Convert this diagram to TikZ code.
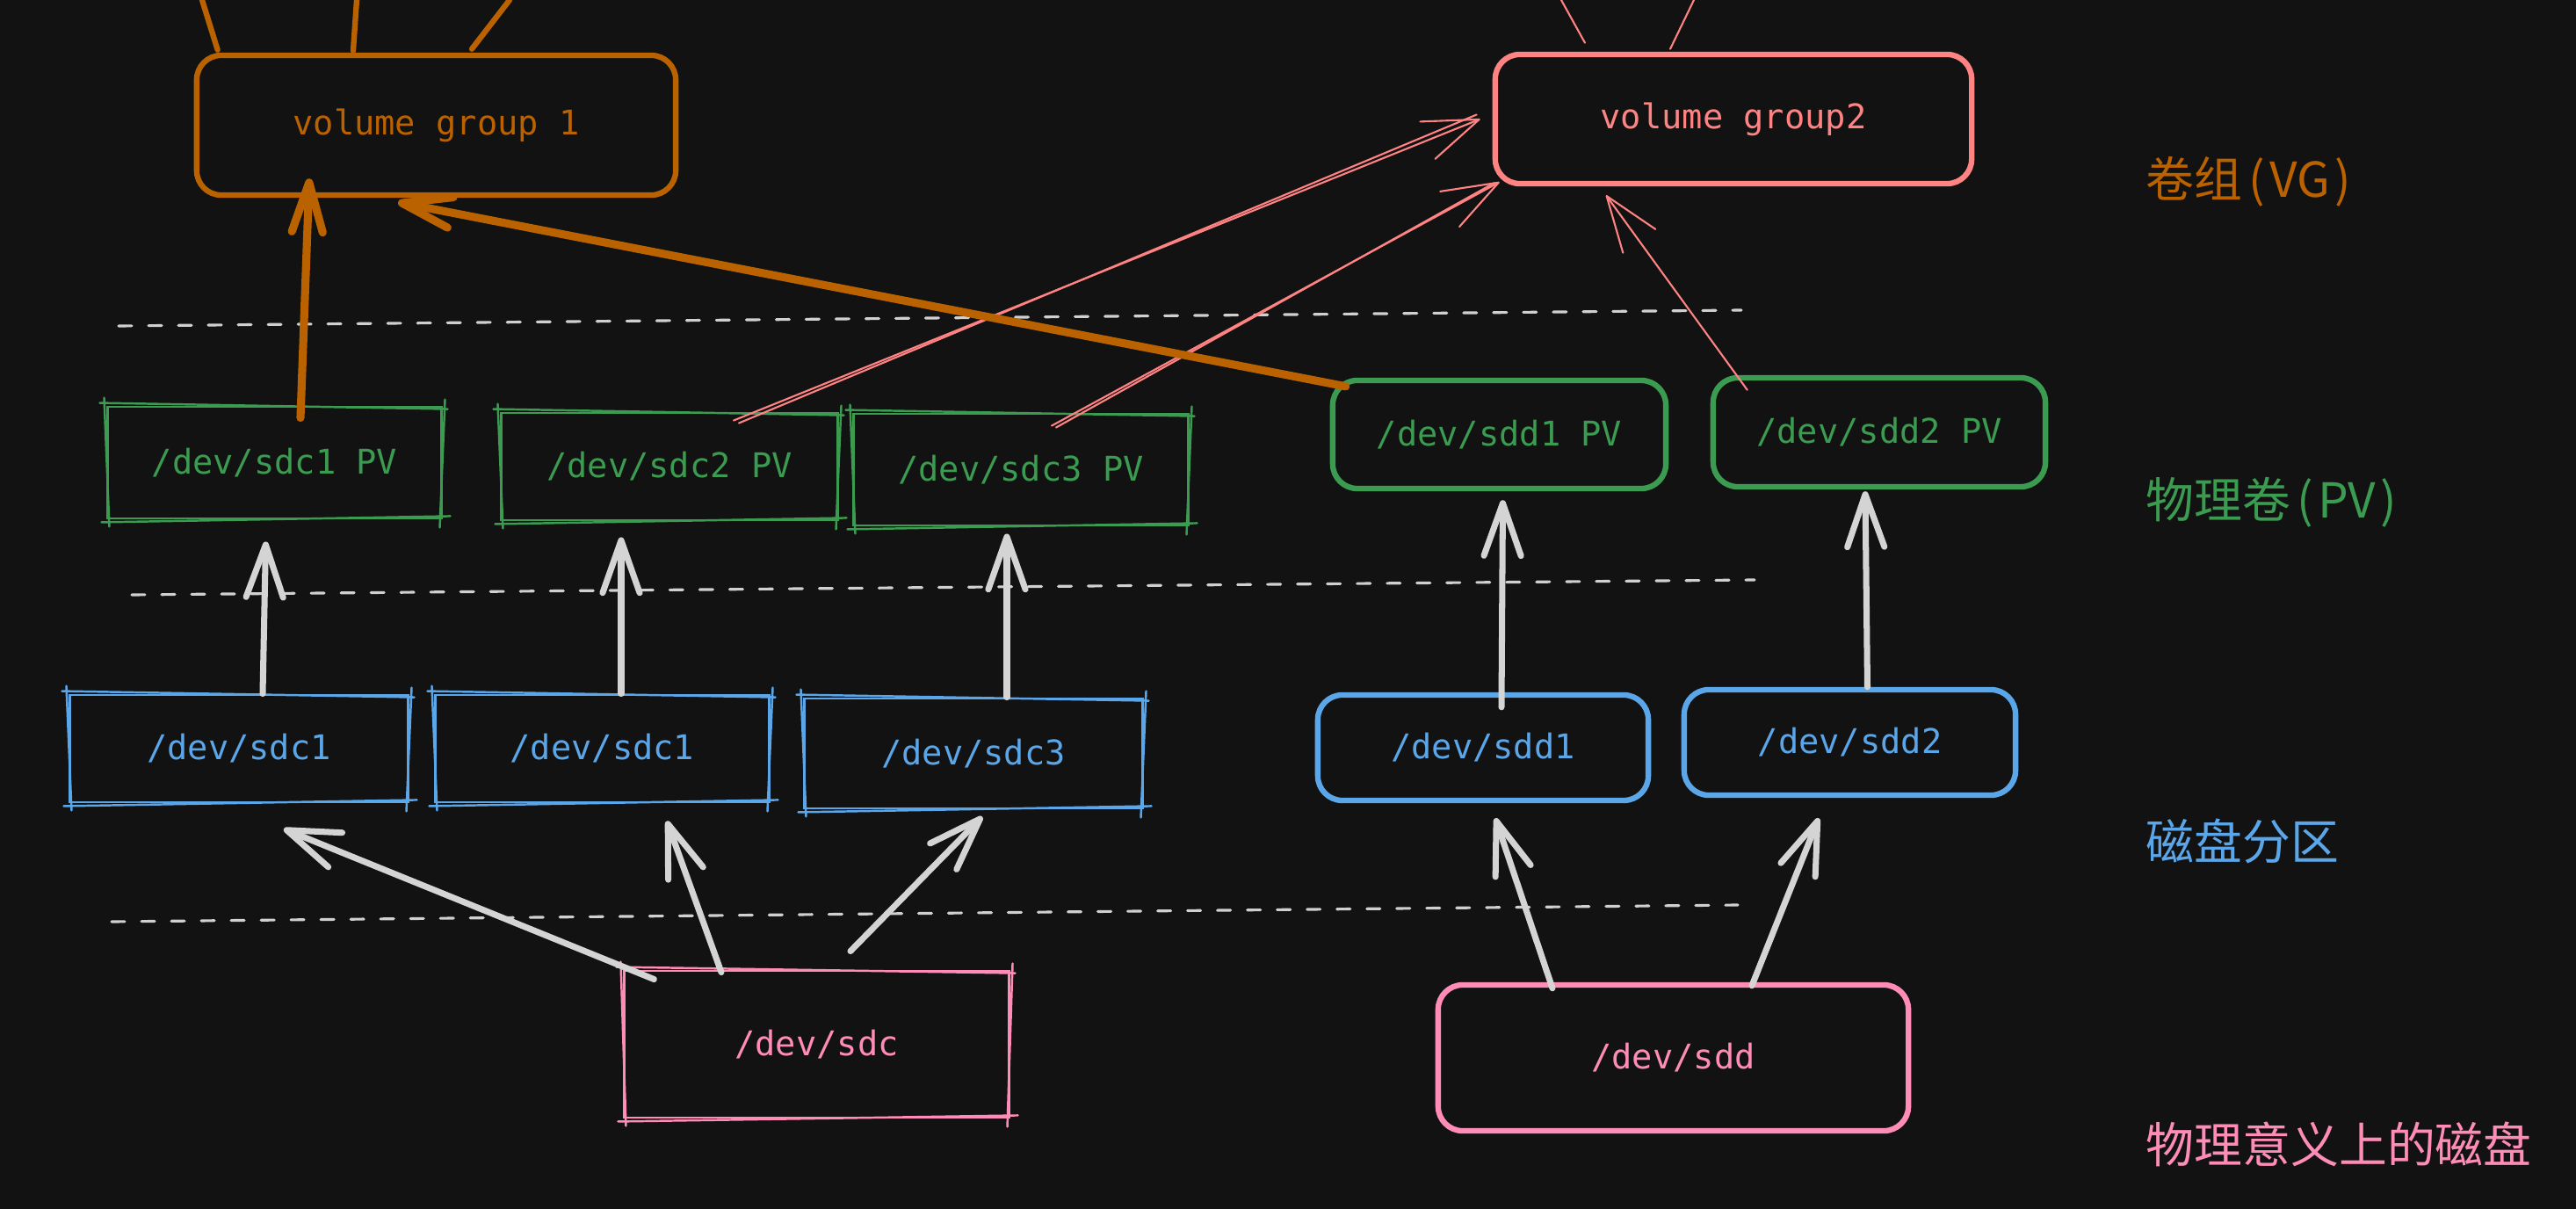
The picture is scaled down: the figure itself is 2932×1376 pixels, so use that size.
\documentclass[tikz,border=0pt]{standalone}
\usepackage{fontspec}
\usetikzlibrary{arrows.meta,calc}
\newfontfamily\codefont{DejaVu Sans Mono}
\newfontfamily\cjk{Noto Sans CJK SC}
\newcommand\codef{\codefont\fontsize{11}{13}\selectfont}
\newcommand\cjkf{\cjk\fontsize{15.6}{18}\selectfont}
\definecolor{bgc}{HTML}{121212}
\definecolor{corange}{HTML}{BA6200}
\definecolor{cgreen}{HTML}{3B9B50}
\definecolor{cblue}{HTML}{5AA6E8}
\definecolor{csalmon}{HTML}{FF8383}
\definecolor{cpink}{HTML}{FF8CB6}
\definecolor{cgrey}{HTML}{D4D4D4}
\definecolor{cdash}{HTML}{D0D0D0}
% extra hand-drawn strokes round a node
\newcommand\roughen[2]{%
  \draw[#2, line width=0.7pt, line cap=round]
    ($(#1.north west)+(-8,-3)$) -- ($(#1.north east)+(6,4)$)
    ($(#1.north east)+(3,-7)$) -- ($(#1.south east)+(-3,9)$)
    ($(#1.south east)+(9,-4)$) -- ($(#1.south west)+(-6,3)$)
    ($(#1.south west)+(3,8)$) -- ($(#1.north west)+(-3,-9)$);
}
\begin{document}
\begin{tikzpicture}[x=0.01cm,y=-0.01cm,
  roundbox/.style={draw=#1, text=#1, rounded corners=0.28cm, line width=1.8pt, font=\codef, inner sep=0pt},
  roughbox/.style={draw=#1, text=#1, line width=0.8pt, font=\codef, inner sep=0pt},
  layerlabel/.style={text=#1, font=\cjkf, anchor=west, inner sep=0pt},
  dashline/.style={draw=cdash, line width=0.9pt, line cap=round, dash pattern=on 0.15cm off 0.19cm},
  greyarrow/.style={draw=cgrey, line width=2pt, line cap=round, -{Straight Barb[length=17pt,width=12pt,round]}},
  orangearrow/.style={draw=corange, line width=2.6pt, line cap=round, -{Straight Barb[length=16pt,width=10pt,round]}},
  pinkarrow/.style={draw=csalmon, line width=0.6pt, line cap=round, -{Straight Barb[length=18pt,width=13pt,round]}},
  orangeline/.style={draw=corange, line width=1.8pt, line cap=round},
  pinkline/.style={draw=csalmon, line width=0.6pt, line cap=round}]
\fill[bgc] (0,0) rectangle (2932,1376);
\useasboundingbox (0,0) rectangle (2932,1376);

% dashed separators
\coordinate (da1) at (135,371); \coordinate (db1) at (1982,353);
\coordinate (da2) at (150,677); \coordinate (db2) at (1997,660);
\coordinate (da3) at (127,1049); \coordinate (db3) at (1978,1030);
\draw[dashline] (da1) -- (db1);
\draw[dashline] (da2) -- (db2);
\draw[dashline] (da3) -- (db3);

% volume groups
\node[roundbox=corange, minimum width=5.45cm, minimum height=1.59cm] (vg1) at (496.5,142.5) {volume group 1};
\node[roundbox=csalmon, minimum width=5.42cm, minimum height=1.47cm] (vg2) at (1973,135.5) {volume group2};

% physical volumes
\node[roughbox=cgreen, minimum width=3.79cm, minimum height=1.27cm] (pv1) at (312.5,526.5) {/dev/sdc1 PV};
\node[roughbox=cgreen, minimum width=3.82cm, minimum height=1.22cm] (pv2) at (762,531) {/dev/sdc2 PV};
\node[roughbox=cgreen, minimum width=3.80cm, minimum height=1.27cm] (pv3) at (1162,534.5) {/dev/sdc3 PV};
\node[roundbox=cgreen, minimum width=3.79cm, minimum height=1.23cm] (pv4) at (1706.5,494.5) {/dev/sdd1 PV};
\node[roundbox=cgreen, minimum width=3.78cm, minimum height=1.24cm] (pv5) at (2139,492) {/dev/sdd2 PV};
\roughen{pv1}{cgreen}
\roughen{pv2}{cgreen}
\roughen{pv3}{cgreen}

% partitions
\node[roughbox=cblue, minimum width=3.84cm, minimum height=1.22cm] (pa1) at (272,852) {/dev/sdc1};
\node[roughbox=cblue, minimum width=3.79cm, minimum height=1.22cm] (pa2) at (685.5,852) {/dev/sdc1};
\node[roughbox=cblue, minimum width=3.84cm, minimum height=1.25cm] (pa3) at (1108,857.5) {/dev/sdc3};
\node[roundbox=cblue, minimum width=3.76cm, minimum height=1.20cm] (pa4) at (1688,851) {/dev/sdd1};
\node[roundbox=cblue, minimum width=3.77cm, minimum height=1.20cm] (pa5) at (2105.5,845) {/dev/sdd2};
\roughen{pa1}{cblue}
\roughen{pa2}{cblue}
\roughen{pa3}{cblue}

% disks
\node[roughbox=cpink, minimum width=4.37cm, minimum height=1.67cm] (sdc) at (929.5,1188.5) {/dev/sdc};
\node[roundbox=cpink, minimum width=5.35cm, minimum height=1.66cm] (sdd) at (1904.5,1204) {/dev/sdd};
\roughen{sdc}{cpink}

% layer labels
\node[layerlabel=corange] (lvg) at (2442,207) {卷组\kern2pt(\kern1.5pt VG\kern1.5pt)};
\node[layerlabel=cgreen] (lpv) at (2442,572) {物理卷\kern2pt(\kern1.5pt PV\kern1.5pt)};
\node[layerlabel=cblue] (lpa) at (2442,957) {磁盘分区};
\node[layerlabel=cpink] (ldisk) at (2442,1302) {物理意义上的磁盘};

% lines leaving the top edge
\coordinate (t1) at (230,0); \coordinate (t2) at (406,0); \coordinate (t3) at (580,0);
\coordinate (t4) at (1777,0); \coordinate (t5) at (1928,0);
\draw[orangeline] ($(vg1.north west)+(27,-3)$) -- (t1);
\draw[orangeline] ($(vg1.north)+(-94.5,-2)$) -- (t2);
\draw[orangeline] ($(vg1.north)+(40.5,-4)$) -- (t3);
\draw[pinkline] ($(vg2.north)+(-169,-10)$) -- (t4);
\draw[pinkline] ($(vg2.north)+(-72,-3)$) -- (t5);

% disks -> partitions
\draw[greyarrow] ($(sdc.north west)+(35,11)$) -- ($(pa1.south)+(51,29)$);
\draw[greyarrow] ($(sdc.north)+(-108.5,3)$) -- ($(pa2.south)+(73.5,20)$);
\draw[greyarrow] ($(sdc.north)+(38.5,-21)$) -- ($(pa3.south)+(10,8)$);
\draw[greyarrow] ($(sdd.north)+(-137.5,7)$) -- ($(pa4.south)+(14,17)$);
\draw[greyarrow] ($(sdd.north)+(89.5,4)$) -- ($(pa5.south)+(-35.5,23)$);

% partitions -> physical volumes
\draw[greyarrow] ($(pa1.north)+(27,0)$) -- ($(pv1.south)+(-10,25)$);
\draw[greyarrow] ($(pa2.north)+(21.5,0)$) -- ($(pv2.south)+(-55,18)$);
\draw[greyarrow] ($(pa3.north)+(38,0)$) -- ($(pv3.south)+(-16,8)$);
\draw[greyarrow] ($(pa4.north)+(21,17)$) -- ($(pv4.south)+(4,10)$);
\draw[greyarrow] ($(pa5.north)+(20,0)$) -- ($(pv5.south)+(-16,2)$);

% physical volumes -> volume groups
\draw[pinkarrow] ($(pv2.north)+(73,10)$) -- ($(vg2.west)+(-14,0)$);
\draw[pinkline] ($(pv2.north)+(79,13)$) -- ($(vg2.west)+(-18,-5)$);
\draw[pinkarrow] ($(pv3.north)+(35,15)$) -- ($(vg2.south west)+(8,-5)$);
\draw[pinkline] ($(pv3.north)+(40,17)$) -- ($(vg2.south west)+(2,-4)$);
\draw[pinkarrow] ($(pv5.north west)+(42,17)$) -- ($(vg2.south)+(-145,10)$);
\draw[orangearrow] ($(pv1.north)+(29.5,14)$) -- ($(vg1.south)+(-144.5,-22)$);
\draw[orangearrow] ($(pv4.north west)+(18,10)$) -- ($(vg1.south)+(-43.5,5)$);
\end{tikzpicture}
\end{document}
